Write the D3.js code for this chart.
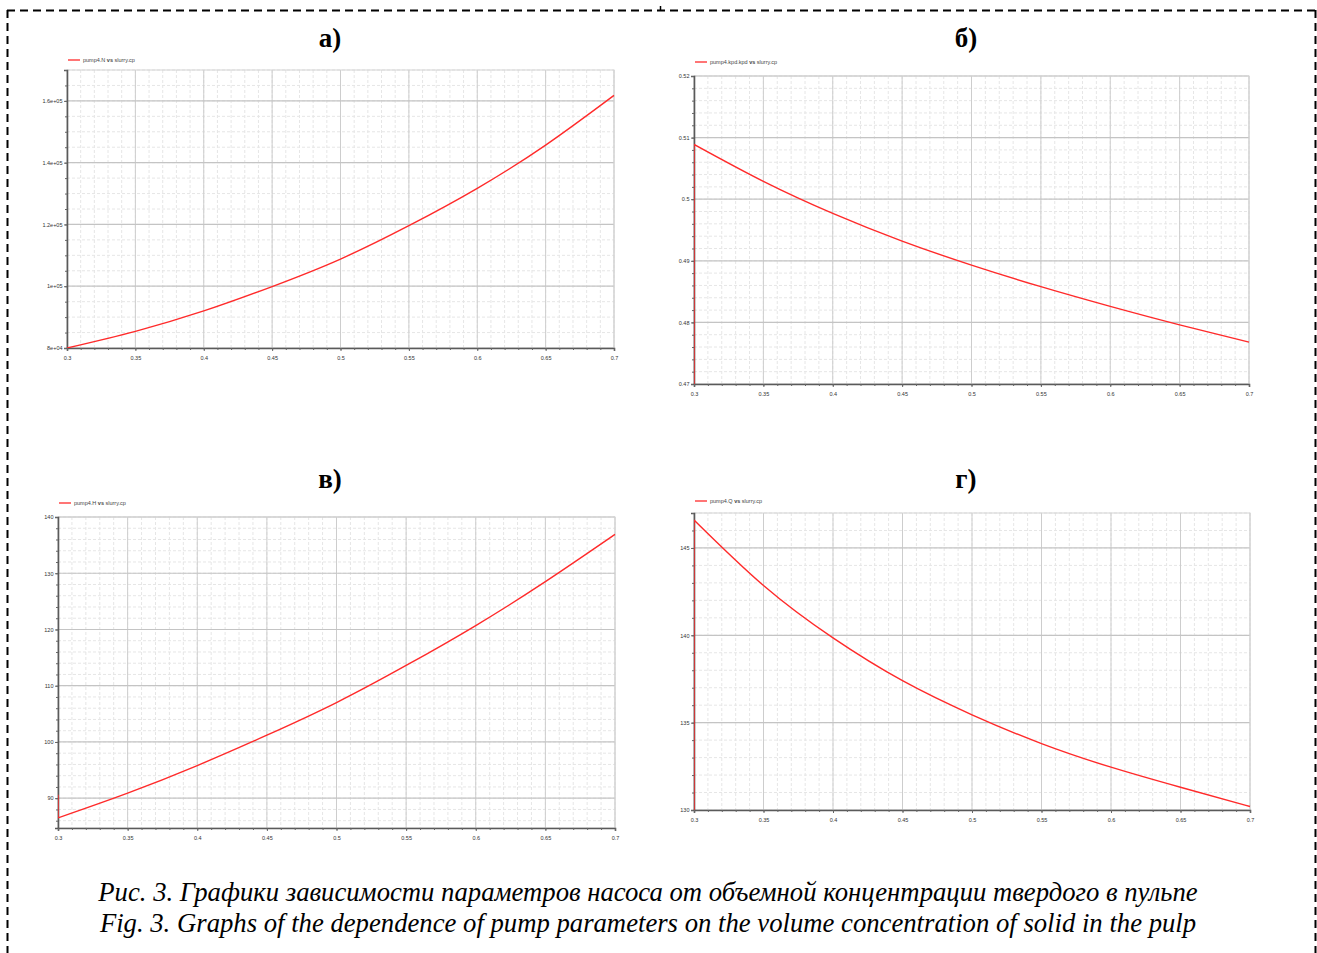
<!DOCTYPE html>
<html lang="ru">
<head>
<meta charset="UTF-8">
<title>Рис. 3. Графики зависимости параметров насоса</title>
<script src="https://d3js.org/d3.v7.min.js"></script>
<style>
  body { margin: 0; background: #fff; }
  .tick text { font-family: "Liberation Sans", Arial, sans-serif; font-size: 5.5px; fill: #333; }
  .legend { font-family: "Liberation Sans", Arial, sans-serif; font-size: 5.5px; fill: #444; }
  .panel-title { font-family: "Liberation Serif", "Times New Roman", serif; font-weight: bold; font-size: 27px; fill: #000; }
  .caption { font-family: "Liberation Serif", "Times New Roman", serif; font-style: italic; font-size: 26.7px; fill: #000; }
</style>
</head>
<body>
<svg width="1317" height="953"></svg>
<script>
// slurry.cp - объемная концентрация (ось X у всех графиков)
const cp = [0.3, 0.35, 0.4, 0.45, 0.5, 0.55, 0.6, 0.65, 0.7];

// значения
const powerN = [80000, 85400, 92000, 99900, 108800, 119600, 131700, 145700, 161800];
const efficiency = [0.5089, 0.5029, 0.4977, 0.4932, 0.4893, 0.4858, 0.4826, 0.4796, 0.4768];
const headH = [86.5, 90.9, 95.8, 101.2, 107.0, 113.6, 120.7, 128.5, 136.9];
const flowQ = [146.6, 142.85, 139.85, 137.4, 135.45, 133.8, 132.45, 131.3, 130.2];

// начальное значение (вертикальный отрезок у x = 0.3)
const startValues = [80000, 0.47, 90.6, 130];

const nTicks = [80000, 100000, 120000, 140000, 160000];
const nTickLabels = ["8e+04", "1e+05", "1.2e+05", "1.4e+05", "1.6e+05"];
const kpdTicks = [0.47, 0.48, 0.49, 0.5, 0.51, 0.52];
const hTicks = [90, 100, 110, 120, 130, 140];
const qTicks = [130, 135, 140, 145];

const legendNames = ["pump4.N", "pump4.kpd.kpd", "pump4.H", "pump4.Q"];
const titles = ["а)", "б)", "в)", "г)"];

const panels = [
  { values: powerN, domain: [80000, 170000], ticks: nTicks, labels: nTickLabels, minor: 5000,
    x0: 67, x1: 614, y0: 70, y1: 348, legendY: 60, tx: 330, ty: 47 },
  { values: efficiency, domain: [0.47, 0.52], ticks: kpdTicks, labels: null, minor: 0.002,
    x0: 694, x1: 1249, y0: 76, y1: 384, legendY: 62, tx: 966, ty: 47 },
  { values: headH, domain: [84.7, 140], ticks: hTicks, labels: null, minor: 2,
    x0: 58, x1: 615, y0: 517, y1: 828, legendY: 503, tx: 330, ty: 488 },
  { values: flowQ, domain: [130, 147], ticks: qTicks, labels: null, minor: 1,
    x0: 694, x1: 1250, y0: 513, y1: 810, legendY: 501, tx: 966, ty: 488 }
];

const svg = d3.select("svg");
const fmt = d3.format("~g");
const red = "#ff2a2a";

// рамка
const frame = svg.append("g")
  .attr("fill", "none")
  .attr("stroke", "#000")
  .attr("stroke-width", 2)
  .attr("stroke-dasharray", "8,5");
frame.append("line").attr("x1", 7.5).attr("x2", 7.5).attr("y1", 10).attr("y2", 953);
frame.append("line").attr("x1", 7).attr("x2", 1316).attr("y1", 10.5).attr("y2", 10.5);
frame.append("line").attr("x1", 1315.5).attr("x2", 1315.5).attr("y1", 10).attr("y2", 953);
svg.append("line").attr("x1", 660.5).attr("x2", 660.5).attr("y1", 6).attr("y2", 11)
  .attr("stroke", "#000").attr("stroke-width", 1.5);

panels.forEach((p, i) => {
  const g = svg.append("g");
  const x = d3.scaleLinear().domain([0.3, 0.7]).range([p.x0, p.x1]);
  const y = d3.scaleLinear().domain(p.domain).range([p.y1, p.y0]);

  const xMajor = d3.ticks(0.3, 0.7, 8);
  const xMinor = d3.ticks(0.3, 0.7, 40);
  const yMinor = d3.ticks(p.domain[0], p.domain[1], (p.domain[1] - p.domain[0]) / p.minor);

  // сетка
  g.append("g").selectAll("line").data(xMinor).join("line")
    .attr("x1", d => x(d)).attr("x2", d => x(d))
    .attr("y1", p.y0).attr("y2", p.y1)
    .attr("stroke", "#e6e6e6").attr("stroke-dasharray", "3,2");
  g.append("g").selectAll("line").data(yMinor).join("line")
    .attr("x1", p.x0).attr("x2", p.x1)
    .attr("y1", d => y(d)).attr("y2", d => y(d))
    .attr("stroke", "#e6e6e6").attr("stroke-dasharray", "3,2");
  g.append("g").selectAll("line").data(xMajor).join("line")
    .attr("x1", d => x(d)).attr("x2", d => x(d))
    .attr("y1", p.y0).attr("y2", p.y1)
    .attr("stroke", "#cdcdcd");
  g.append("g").selectAll("line").data(p.ticks).join("line")
    .attr("x1", p.x0).attr("x2", p.x1)
    .attr("y1", d => y(d)).attr("y2", d => y(d))
    .attr("stroke", "#c4c4c4").attr("stroke-width", 1.2);

  g.append("rect")
    .attr("x", p.x0).attr("y", p.y0)
    .attr("width", p.x1 - p.x0).attr("height", p.y1 - p.y0)
    .attr("fill", "none").attr("stroke", "#d4d4d4");

  // оси
  g.append("g")
    .attr("transform", `translate(${p.x0},0)`)
    .call(d3.axisLeft(y).tickValues(p.ticks)
      .tickFormat((d, k) => p.labels ? p.labels[k] : fmt(d))
      .tickSize(3).tickPadding(1.5));
  g.append("g")
    .attr("transform", `translate(${p.x0},0)`)
    .call(d3.axisLeft(y).tickValues(yMinor).tickFormat("").tickSize(2))
    .select(".domain").remove();
  g.append("g")
    .attr("transform", `translate(0,${p.y1})`)
    .call(d3.axisBottom(x).tickValues(xMajor).tickFormat(fmt).tickSize(3).tickPadding(5.5));
  g.append("g")
    .attr("transform", `translate(0,${p.y1})`)
    .call(d3.axisBottom(x).tickValues(xMinor).tickFormat("").tickSize(2))
    .select(".domain").remove();

  g.selectAll(".domain").attr("stroke", "#5a5a5a").attr("stroke-width", 1.6);
  g.selectAll(".tick line").attr("stroke", "#666");

  // кривая
  const clipId = "clip" + i;
  g.append("clipPath").attr("id", clipId).append("rect")
    .attr("x", p.x0).attr("y", p.y0)
    .attr("width", p.x1 - p.x0 + 1).attr("height", p.y1 - p.y0);

  const pts = cp.map((c, k) => [c, p.values[k]]);
  const line = d3.line().x(d => x(d[0])).y(d => y(d[1]));

  g.append("path")
    .attr("clip-path", `url(#${clipId})`)
    .attr("d", line([[cp[0], startValues[i]], pts[0]]))
    .attr("fill", "none").attr("stroke", red).attr("stroke-width", 1.4);
  g.append("path")
    .attr("clip-path", `url(#${clipId})`)
    .attr("d", line.curve(d3.curveNatural)(pts))
    .attr("fill", "none").attr("stroke", red).attr("stroke-width", 1.4);

  // легенда
  g.append("line")
    .attr("x1", p.x0 + 1).attr("x2", p.x0 + 13)
    .attr("y1", p.legendY).attr("y2", p.legendY)
    .attr("stroke", red).attr("stroke-width", 1.3);
  const lt = g.append("text").attr("class", "legend")
    .attr("x", p.x0 + 16).attr("y", p.legendY + 2);
  lt.append("tspan").text(legendNames[i] + " ");
  lt.append("tspan").attr("font-weight", "bold").text("vs");
  lt.append("tspan").text(" slurry.cp");

  // заголовок
  svg.append("text").attr("class", "panel-title")
    .attr("x", p.tx).attr("y", p.ty)
    .attr("text-anchor", "middle")
    .text(titles[i]);
});

svg.append("text").attr("class", "caption")
  .attr("x", 648).attr("y", 901).attr("text-anchor", "middle")
  .text("Рис. 3. Графики зависимости параметров насоса от объемной концентрации твердого в пульпе");
svg.append("text").attr("class", "caption")
  .attr("x", 648).attr("y", 932).attr("text-anchor", "middle")
  .text("Fig. 3. Graphs of the dependence of pump parameters on the volume concentration of solid in the pulp");
</script>
</body>
</html>
